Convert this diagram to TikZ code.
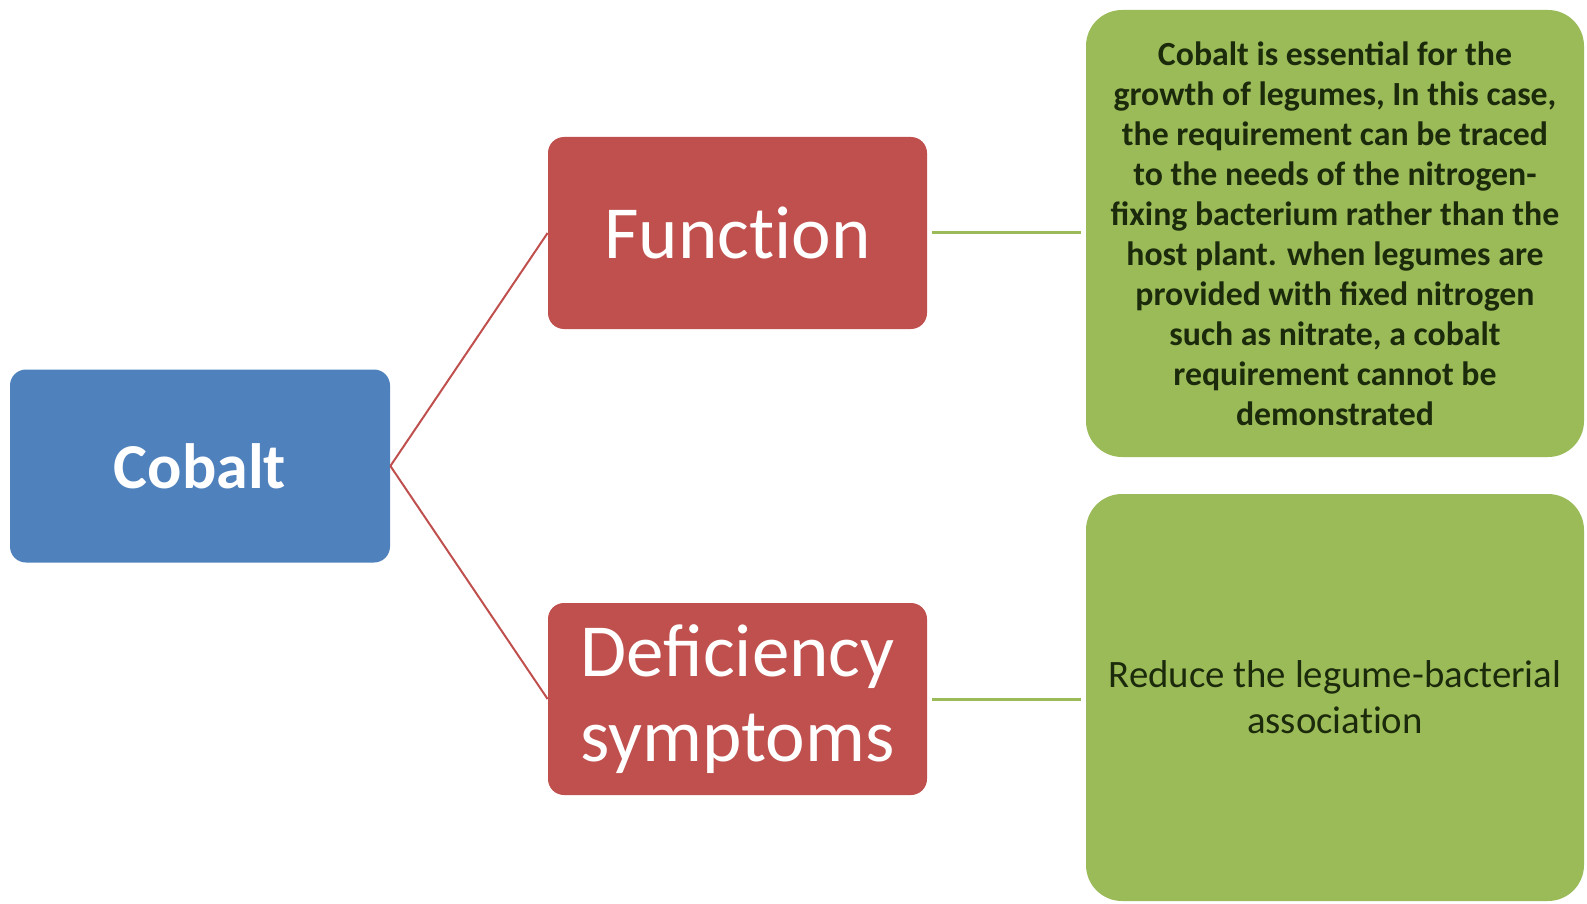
\documentclass[tikz,border=0pt]{standalone}
\usepackage{fontspec}
\setmainfont{Carlito}
\definecolor{cblue}{HTML}{4F81BD}
\definecolor{cred}{HTML}{C0504D}
\definecolor{cgreen}{HTML}{9BBB59}
\definecolor{ctext}{HTML}{1C2A0C}
\tikzset{
  basebox/.style={rounded corners=8pt, inner sep=0pt, align=center},
  bluebox/.style={basebox, fill=cblue, text=white, minimum width=190pt, minimum height=96.5pt, font=\fontsize{32}{38}\selectfont\bfseries},
  redbox/.style={basebox, fill=cred, text=white, minimum width=189.5pt, minimum height=96pt, font=\fontsize{37.5}{42.5}\selectfont},
  greenbox/.style={basebox, rounded corners=18pt, fill=cgreen, text=ctext, minimum width=249pt},
  redline/.style={draw=cred, line width=1pt},
  greenline/.style={draw=cgreen, line width=1.5pt, shorten <=2.5pt, shorten >=2.5pt}
}
\begin{document}
\begin{tikzpicture}[x=0.5pt, y=-0.5pt]
\useasboundingbox (0,0) rectangle (1587,904);
\node[bluebox] (cob) at (200,466) {Cobalt};
\node[redbox] (fun) at (737.5,233) {Funct\kern0pt ion};
\node[redbox] (def) at (737.5,699) {Deficiency\\symptoms};
\node[greenbox, minimum height=223.5pt, font=\fontsize{16.9}{20}\selectfont\bfseries] (g1) at (1335,233.5)
 {Cobalt is essential for the\\growth of legumes, In this case,\\the requirement can be traced\\to the needs of the nitrogen-\\fixing bacterium rather than the\\host plant. when legumes are\\provided with fixed nitrogen\\such as nitrate, a cobalt\\requirement cannot be\\demonstrated};
\node[greenbox, minimum height=203.5pt, font=\fontsize{19.4}{23}\selectfont] (g2) at (1335,697.5)
 {Reduce the legume-bacterial\\associat\kern0pt ion};
\draw[redline] (cob.east) -- (fun.west);
\draw[redline] (cob.east) -- (def.west);
\draw[greenline] (fun.east) -- (g1.west |- fun.east);
\draw[greenline] (def.east) -- (g2.west |- def.east);
\end{tikzpicture}
\end{document}
